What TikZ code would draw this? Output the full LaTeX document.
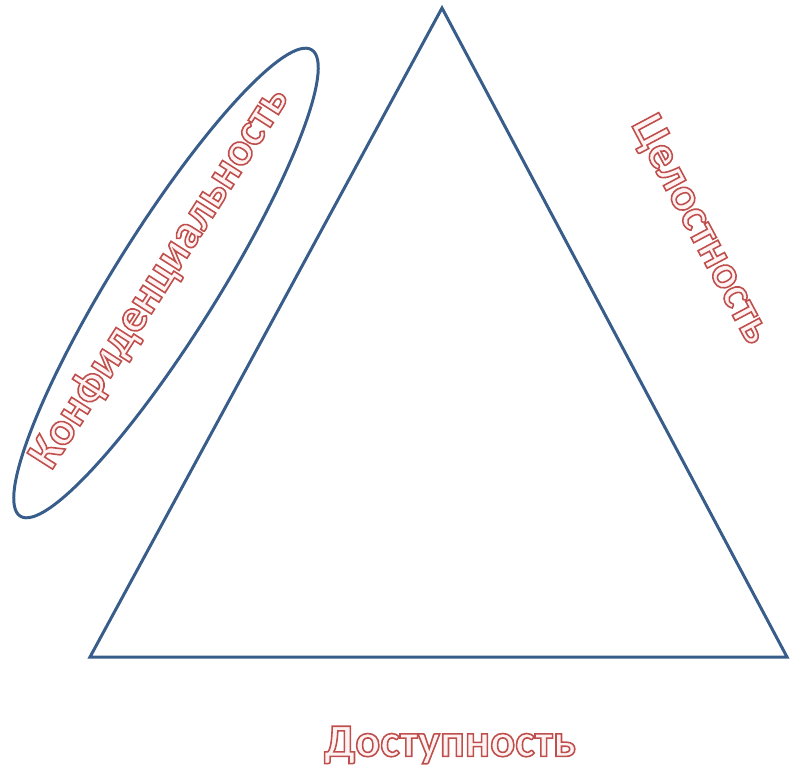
\documentclass[tikz,border=0pt]{standalone}
\usepackage{fontspec}
\setmainfont{Carlito}
\usetikzlibrary{shapes.geometric}
\definecolor{edge}{RGB}{56,93,138}
\definecolor{wred}{RGB}{192,80,77}
\definecolor{wfill}{RGB}{255,242,242}
\newcommand{\wordart}[1]{\textcolor{wfill}{\special{pdf:literal direct 0.75 0.31 0.30 RG 2 Tr 0.9 w}#1\special{pdf:literal direct 0 Tr}}}
\tikzset{
  tri/.style={draw=edge,line width=1.7pt,line join=miter},
  ring/.style={ellipse,draw=edge,line width=1.7pt,minimum width=11cm,minimum height=2.08cm,inner sep=0pt},
  word/.style={font=\fontsize{26.5}{26.5}\selectfont\bfseries,inner sep=0pt},
}

\begin{document}
\begin{tikzpicture}[x=0.02cm,y=-0.02cm]
 \useasboundingbox (0,0) rectangle (790,773);
 % triangle corners
 \coordinate (top) at (442,8);
 \coordinate (bl) at (90,657);
 \coordinate (br) at (787,657);
 \draw[tri] (top) -- (bl) -- (br) -- cycle;
 % labels
 \node[ring,rotate=58] (conf) at (166,283) {};
 \node[word,rotate=57.5] (conft) at (160,278) {\wordart{Конфиденциальность}};
 \node[word,rotate=-62] (integ) at (700,230) {\wordart{Целостность}};
 \node[word] (avail) at (450,745) {\wordart{Доступность}};
\end{tikzpicture}
\end{document}
